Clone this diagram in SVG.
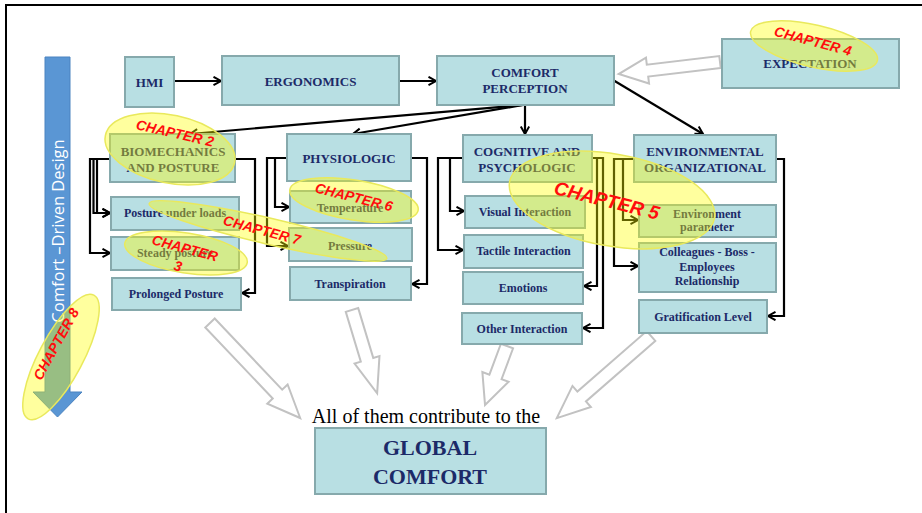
<svg xmlns="http://www.w3.org/2000/svg" width="922" height="513" viewBox="0 0 922 513">
  <style>
    .box { fill: #b8dfe3; stroke: #86a9ac; stroke-width: 2; }
    .t { font-family: "Liberation Serif", "Times New Roman", serif; font-weight: bold; fill: #1c2a68; text-anchor: middle; }
    .t13 { font-size: 13px; }
    .t12 { font-size: 12px; }
    .link { fill: none; stroke: #000; stroke-width: 2.2; marker-end: url(#arr); }
    .block { fill: #fff; stroke: #c2c2c2; stroke-width: 2; stroke-linejoin: miter; }
    .hl { fill: #ffff00; fill-opacity: 0.38; stroke: #e9e95c; stroke-width: 1.5; }
    .ch { font-family: "Liberation Sans", Arial, sans-serif; font-weight: bold; font-style: italic; fill: #ff0d0d; text-anchor: middle; font-size: 14px; }
    .ch-big { font-size: 19px; }
  </style>
  <defs>
    <marker id="arr" markerUnits="userSpaceOnUse" markerWidth="11" markerHeight="11" refX="8.5" refY="5" orient="auto">
      <path d="M1,0.8 L8.5,5 L1,9.2" fill="none" stroke="#000" stroke-width="2"/>
    </marker>
  </defs>

  <rect width="922" height="513" fill="#fff"/>
  <!-- page frame -->
  <rect x="6" y="5" width="930" height="520" fill="none" stroke="#000" stroke-width="2"/>

  <!-- design-direction arrow -->
  <g id="design-arrow">
    <polygon points="45,57 70,57 70,392 82,392 57.5,417 33,392 45,392" fill="#5a96d4" stroke="#4a83c0" stroke-width="1"/>
    <text x="0" y="0" transform="translate(63.5 231) rotate(-90)" font-family="'Open Sans', 'Liberation Sans', sans-serif" font-size="16.5" fill="#fff" text-anchor="middle">Comfort –Driven Design</text>
  </g>

  <!-- connectors -->
  <g id="connectors">
    <path class="link" d="M174,81 H221"/>
    <path class="link" d="M399,81 H436"/>
    <path class="link" d="M523,105 L190,134"/>
    <path class="link" d="M523,105 L353,134"/>
    <path class="link" d="M525,105 V134"/>
    <path class="link" d="M613,80 L703,134"/>

    <path class="link" d="M110,159 H90 V253 H110"/>
    <path class="link" d="M110,159 H93.5 V213 H110"/>
    <path class="link" d="M110,159 H97 V213 H110"/>
    <path class="link" d="M234,159 H255 V293 H242"/>

    <path class="link" d="M287,158 H267 V246 H288"/>
    <path class="link" d="M287,158 H275 V207 H289"/>
    <path class="link" d="M411,158 H427 V284 H412"/>

    <path class="link" d="M463,158 H438 V250 H463"/>
    <path class="link" d="M463,158 H450 V211 H464"/>
    <path class="link" d="M592,158 H597 V286 H584"/>
    <path class="link" d="M592,158 H603 V328 H583"/>

    <path class="link" d="M634,159 H614 V266 H638"/>
    <path class="link" d="M634,159 H623 V220 H638"/>
    <path class="link" d="M776,159 H784 V316 H768"/>

    <!-- hollow block arrows -->
    <polygon class="block" transform="translate(720 62) rotate(173.2)" points="0,-6 73,-6 73,-13 102,0 73,13 73,6 0,6"/>
    <polygon class="block" transform="translate(210 323) rotate(46.5)" points="0,-6.5 98,-6.5 98,-14 131,0 98,14 98,6.5 0,6.5"/>
    <polygon class="block" transform="translate(352 310) rotate(73.2)" points="0,-6.5 52,-6.5 52,-13 87,0 52,13 52,6.5 0,6.5"/>
    <polygon class="block" transform="translate(507 346) rotate(110.4)" points="0,-6.5 33,-6.5 33,-14 63,0 33,14 33,6.5 0,6.5"/>
    <polygon class="block" transform="translate(651 336) rotate(138.9)" points="0,-6.5 92,-6.5 92,-14 125,0 92,14 92,6.5 0,6.5"/>
  </g>

  <!-- nodes -->
  <g id="hmi"><rect class="box" x="125" y="57" width="49" height="50"/><text class="t t13" x="149.5" y="86.5">HMI</text></g>
  <g id="ergonomics"><rect class="box" x="222" y="56" width="177" height="49"/><text class="t t13" x="310.5" y="86">ERGONOMICS</text></g>
  <g id="comfort-perception"><rect class="box" x="437" y="56" width="177" height="49"/><text class="t t13" x="525" y="77">COMFORT</text><text class="t t13" x="525" y="93">PERCEPTION</text></g>
  <g id="expectation"><rect class="box" x="722" y="39" width="177" height="49"/><text class="t t13" x="810" y="68">EXPECTATION</text></g>

  <g id="biomechanics"><rect class="box" x="110" y="134" width="125" height="48"/><text class="t t13" x="173" y="156">BIOMECHANICS</text><text class="t t13" x="173" y="172">AND POSTURE</text></g>
  <g id="physiologic"><rect class="box" x="287" y="134" width="124" height="47"/><text class="t t13" x="349" y="163">PHYSIOLOGIC</text></g>
  <g id="cognitive"><rect class="box" x="463" y="135" width="129" height="47"/><text class="t t13" x="527" y="156">COGNITIVE AND</text><text class="t t13" x="527" y="172">PSYCHOLOGIC</text></g>
  <g id="environmental"><rect class="box" x="634" y="135" width="142" height="47"/><text class="t t13" x="705" y="156">ENVIRONMENTAL</text><text class="t t13" x="705" y="172">ORGANIZATIONAL</text></g>

  <g id="posture-loads"><rect class="box" x="111" y="197" width="128" height="33"/><text class="t t12" x="175" y="217">Posture under loads</text></g>
  <g id="steady-posture"><rect class="box" x="111" y="237" width="128" height="33"/><text class="t t12" x="175" y="257">Steady posture</text></g>
  <g id="prolonged-posture"><rect class="box" x="112" y="278" width="129" height="32"/><text class="t t12" x="176" y="298">Prolonged Posture</text></g>

  <g id="temperature"><rect class="box" x="290" y="191" width="121" height="32"/><text class="t t12" x="350" y="212">Temperature</text></g>
  <g id="pressure"><rect class="box" x="289" y="228" width="123" height="33"/><text class="t t12" x="350" y="250">Pressure</text></g>
  <g id="transpiration"><rect class="box" x="290" y="267" width="121" height="33"/><text class="t t12" x="350" y="288">Transpiration</text></g>

  <g id="visual"><rect class="box" x="465" y="196" width="120" height="32"/><text class="t t12" x="525" y="216">Visual Interaction</text></g>
  <g id="tactile"><rect class="box" x="464" y="235" width="119" height="33"/><text class="t t12" x="523.5" y="255">Tactile Interaction</text></g>
  <g id="emotions"><rect class="box" x="463" y="272" width="120" height="32"/><text class="t t12" x="523" y="292">Emotions</text></g>
  <g id="other"><rect class="box" x="462" y="313" width="120" height="31"/><text class="t t12" x="522" y="333">Other Interaction</text></g>

  <g id="env-parameter"><rect class="box" x="639" y="205" width="137" height="32"/><text class="t t12" x="707" y="218">Environment</text><text class="t t12" x="707" y="231">parameter</text></g>
  <g id="colleagues"><rect class="box" x="639" y="243" width="137" height="49"/><text class="t t12" x="707" y="256">Colleagues - Boss -</text><text class="t t12" x="707" y="271">Employees</text><text class="t t12" x="707" y="285">Relationship</text></g>
  <g id="gratification"><rect class="box" x="639" y="300" width="128" height="33"/><text class="t t12" x="703" y="321">Gratification Level</text></g>

  <text x="426" y="423" font-family="'Liberation Serif', 'Times New Roman', serif" font-size="20" fill="#000" text-anchor="middle">All of them contribute to the</text>
  <g id="global-comfort"><rect class="box" x="315" y="428" width="231" height="66"/><text class="t" font-size="22" x="430" y="455">GLOBAL</text><text class="t" font-size="22" x="430" y="484">COMFORT</text></g>

  <!-- chapter highlights -->
  <g id="chapters">
    <ellipse class="hl" cx="170" cy="149" rx="66" ry="34" transform="rotate(12 170 149)"/>
    <ellipse class="hl" cx="814" cy="46" rx="65" ry="21" transform="rotate(13 814 46)"/>
    <ellipse class="hl" cx="354" cy="200" rx="65" ry="20" transform="rotate(9 354 200)"/>
    <ellipse class="hl" cx="268" cy="231" rx="122" ry="13" transform="rotate(13 268 231)"/>
    <ellipse class="hl" cx="186" cy="253" rx="62" ry="20" transform="rotate(9 186 253)"/>
    <ellipse class="hl" cx="612" cy="200" rx="104" ry="46" transform="rotate(10 612 200)"/>
    <ellipse class="hl" cx="61" cy="357" rx="70" ry="22" transform="rotate(-62 61 357)"/>

    <text class="ch" x="175" y="138" transform="rotate(13 175 133)">CHAPTER 2</text>
    <text class="ch" x="813" y="46" transform="rotate(15 813 41)">CHAPTER 4</text>
    <text class="ch" x="354" y="202" transform="rotate(14 354 197)">CHAPTER 6</text>
    <text class="ch" x="262" y="235" transform="rotate(15 262 230)">CHAPTER 7</text>
    <text class="ch" x="185" y="253" transform="rotate(15 185 248)">CHAPTER</text>
    <text class="ch" x="178" y="271" transform="rotate(15 178 266)">3</text>
    <text class="ch ch-big" x="607" y="207" transform="rotate(14 607 200)">CHAPTER 5</text>
    <text class="ch" x="56" y="349" transform="rotate(-61 56 344)">CHAPTER 8</text>
  </g>
</svg>
